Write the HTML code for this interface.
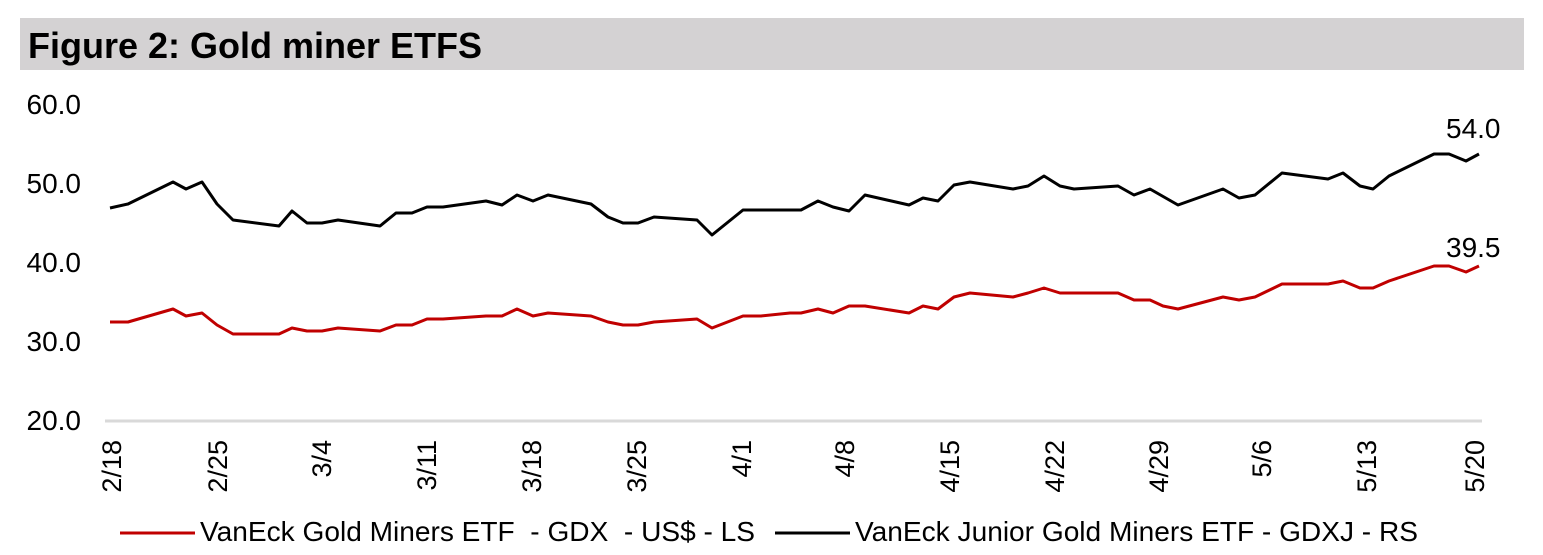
<!DOCTYPE html>
<html><head><meta charset="utf-8"><style>
html,body{margin:0;padding:0;background:#fff;}
body{width:1543px;height:555px;overflow:hidden;position:relative;font-family:"Liberation Sans",Arial,sans-serif;}
</style></head><body>
<svg width="1543" height="555" xmlns="http://www.w3.org/2000/svg" style="position:absolute;left:0;top:0">
<rect x="20" y="18" width="1504" height="52" fill="#d4d2d3"/>
<text x="28" y="58" font-family="Liberation Sans, Arial, sans-serif" font-weight="bold" font-size="36" fill="#000">Figure 2: Gold miner ETFS</text>
<g font-family="Liberation Sans, Arial, sans-serif" font-size="28" fill="#000" text-anchor="end">
<text x="81" y="114">60.0</text>
<text x="81" y="193">50.0</text>
<text x="81" y="272">40.0</text>
<text x="81" y="351">30.0</text>
<text x="81" y="430">20.0</text>
</g>
<line x1="105" y1="421" x2="1482" y2="421" stroke="#d9d9d9" stroke-width="3"/>
<g font-family="Liberation Sans, Arial, sans-serif" font-size="27" fill="#000" text-anchor="end">
<text transform="translate(121,440) rotate(-90)">2/18</text>
<text transform="translate(227,440) rotate(-90)">2/25</text>
<text transform="translate(331,440) rotate(-90)">3/4</text>
<text transform="translate(436,440) rotate(-90)">3/11</text>
<text transform="translate(541,440) rotate(-90)">3/18</text>
<text transform="translate(646,440) rotate(-90)">3/25</text>
<text transform="translate(751,440) rotate(-90)">4/1</text>
<text transform="translate(854,440) rotate(-90)">4/8</text>
<text transform="translate(959,440) rotate(-90)">4/15</text>
<text transform="translate(1064,440) rotate(-90)">4/22</text>
<text transform="translate(1168,440) rotate(-90)">4/29</text>
<text transform="translate(1271,440) rotate(-90)">5/6</text>
<text transform="translate(1376,440) rotate(-90)">5/13</text>
<text transform="translate(1484,440) rotate(-90)">5/20</text>
</g>
<polyline fill="none" stroke="#000" stroke-width="3" stroke-linejoin="round" points="110,208 128,204 173,182 186,189 202,182 217,204 233,220 279,226 292,211 307,223 322,223 338,220 380,226 396,213 412,213 427,207 443,207 486,201 502,205 517,195 533,201 548,195 591,204 608,217 623,223 638,223 654,217 697,220 712,235 743,210 790,210 801,210 818,201 833,207 849,211 865,195 909,205 923,198 938,201 954,185 970,182 1013,189 1028,186 1044,176 1060,186 1074,189 1118,186 1134,195 1150,189 1178,205 1223,189 1239,198 1255,195 1282,173 1328,179 1343,173 1360,186 1373,189 1389,176 1434,154 1449,154 1466,161 1479,154"/>
<polyline fill="none" stroke="#c00000" stroke-width="3" stroke-linejoin="round" points="110,322 128,322 173,309 186,316 202,313 217,325 233,334 279,334 292,328 307,331 322,331 338,328 380,331 396,325 412,325 427,319 443,319 486,316 502,316 517,309 533,316 548,313 591,316 608,322 623,325 638,325 654,322 697,319 712,328 743,316 761,316 790,313 801,313 818,309 833,313 849,306 865,306 909,313 923,306 938,309 954,297 970,293 1013,297 1028,293 1044,288 1060,293 1118,293 1134,300 1150,300 1163,306 1178,309 1223,297 1239,300 1255,297 1282,284 1328,284 1343,281 1360,288 1373,288 1389,281 1434,266 1449,266 1466,272 1479,266"/>
<g font-family="Liberation Sans, Arial, sans-serif" font-size="28" fill="#000">
<text x="1446" y="138">54.0</text>
<text x="1446" y="257">39.5</text>
</g>
<line x1="120" y1="533" x2="195" y2="533" stroke="#c00000" stroke-width="3"/>
<line x1="775" y1="533" x2="850" y2="533" stroke="#000" stroke-width="3"/>
<g font-family="Liberation Sans, Arial, sans-serif" font-size="28" fill="#000">
<text x="200" y="541" xml:space="preserve" textLength="555" lengthAdjust="spacingAndGlyphs">VanEck Gold Miners ETF  - GDX  - US$ - LS</text>
<text x="855" y="541" textLength="563" lengthAdjust="spacingAndGlyphs">VanEck Junior Gold Miners ETF - GDXJ - RS</text>
</g>
</svg>
</body></html>
